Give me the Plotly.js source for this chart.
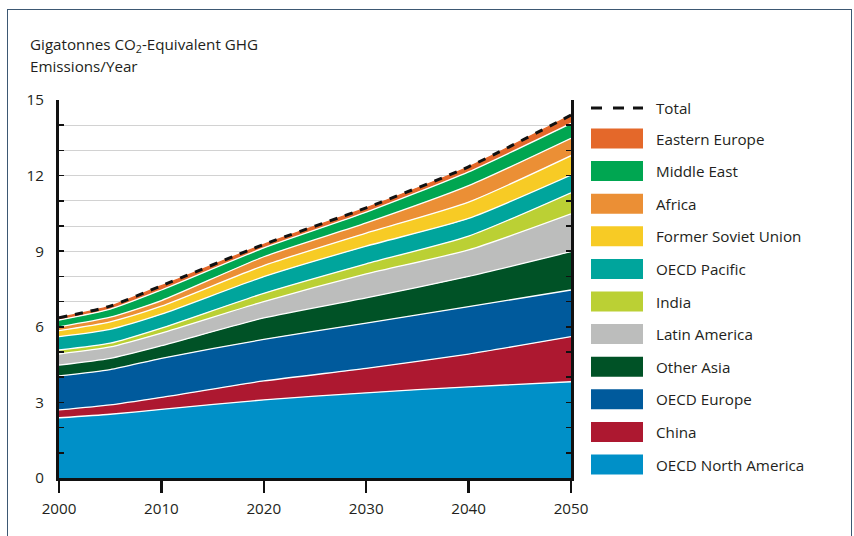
<!DOCTYPE html>
<html><head><meta charset="utf-8">
<script src="https://cdn.plot.ly/plotly-3.0.1.min.js"></script>
<style>
html,body{margin:0;padding:0;background:#fff;}
#wrap{position:relative;width:854px;height:536px;overflow:hidden;}
#chart{position:absolute;left:0;top:0;width:854px;height:536px;}
#frame{position:absolute;left:7px;top:9px;width:843px;height:600px;border:1px solid #3d5873;pointer-events:none;}
</style></head><body>
<div id="wrap"><div id="chart"></div><div id="frame"></div></div>
<script>
// ---- data (Gigatonnes CO2-eq per year, per region, stacked bottom -> top) ----
const years = [2000, 2005, 2010, 2020, 2030, 2040, 2050];
const oecdNorthAmerica = [2.39, 2.53, 2.72, 3.10, 3.38, 3.62, 3.82];
const china            = [0.31, 0.37, 0.48, 0.75, 0.97, 1.30, 1.79];
const oecdEurope       = [1.35, 1.40, 1.55, 1.65, 1.80, 1.88, 1.85];
const otherAsia        = [0.43, 0.45, 0.50, 0.85, 1.00, 1.20, 1.52];
const latinAmerica     = [0.44, 0.45, 0.50, 0.65, 0.95, 1.05, 1.50];
const india            = [0.16, 0.15, 0.20, 0.33, 0.40, 0.55, 0.84];
const oecdPacific      = [0.53, 0.55, 0.55, 0.66, 0.70, 0.70, 0.70];
const formerSovietUnion= [0.24, 0.30, 0.32, 0.44, 0.52, 0.65, 0.77];
const africa           = [0.15, 0.18, 0.22, 0.35, 0.40, 0.65, 0.69];
const middleEast       = [0.27, 0.32, 0.42, 0.35, 0.43, 0.55, 0.59];
const easternEurope    = [0.09, 0.12, 0.17, 0.14, 0.17, 0.20, 0.33];

const xTickVals = [2000, 2010, 2020, 2030, 2040, 2050];
const xTickText = ["2000", "2010", "2020", "2030", "2040", "2050"];
const yTickVals = [0,1,2,3,4,5,6,7,8,9,10,11,12,13,14,15];
const yTickText = ["0","","","3","","","6","","","9","","","12","","","15"];

const seriesNames = ["OECD North America","China","OECD Europe","Other Asia","Latin America","India","OECD Pacific","Former Soviet Union","Africa","Middle East","Eastern Europe"];
const seriesValues = [oecdNorthAmerica, china, oecdEurope, otherAsia, latinAmerica, india, oecdPacific, formerSovietUnion, africa, middleEast, easternEurope];
const seriesColors = ["#0090c8","#ad1830","#005a9c","#005226","#bcbdbc","#bbd034","#00a59c","#f7cb25","#eb8f35","#00a651","#e4682a"];

// ---- geometry helpers (plot area in px) ----
const L = 59, R = 571, T = 100, B = 478;
const px = x => (x - L) / (R - L);
const py = y => (B - y) / (B - T);
const FONT_FAMILY = '"Open Sans", "Noto Sans", sans-serif';
const FS = 15.2;
const TXT = '#231f20';

const traces = seriesNames.map((name, i) => ({
  type: 'scatter', mode: 'lines', x: years, y: seriesValues[i], name: name,
  stackgroup: 'one', fillcolor: seriesColors[i],
  line: {color: i === seriesNames.length - 1 ? seriesColors[i] : '#ffffff', width: 1.3, shape: 'spline', smoothing: 0.6},
  hoverinfo: 'skip', showlegend: false
}));
const total = years.map((_, j) => seriesValues.reduce((s, arr) => s + arr[j], 0));
traces.push({type: 'scatter', mode: 'lines', x: years, y: total, name: 'Total',
  line: {color: '#111', width: 3, dash: '8px,8px', shape: 'spline', smoothing: 0.6}, hoverinfo: 'skip', showlegend: false});

// ---- custom legend ----
const shapes = [];
const annotations = [];
const legendTop = 108, rowStart = 138.5, rowStep = 32.6;
[[591, 602], [613, 624], [633, 643]].forEach(d => shapes.push({
  type: 'line', xref: 'paper', yref: 'paper', x0: px(d[0]), x1: px(d[1]), y0: py(legendTop), y1: py(legendTop),
  line: {color: '#111', width: 3}
}));
annotations.push({xref: 'paper', yref: 'paper', x: px(654), y: py(legendTop), xanchor: 'left', yanchor: 'middle',
  text: 'Total', showarrow: false, font: {family: FONT_FAMILY, size: FS, color: TXT}});
for (let k = 0; k < seriesNames.length; k++) {
  const i = seriesNames.length - 1 - k;
  const cy = rowStart + rowStep * k;
  shapes.push({type: 'rect', xref: 'paper', yref: 'paper', x0: px(591), x1: px(643), y0: py(cy - 10), y1: py(cy + 10),
    fillcolor: seriesColors[i], line: {width: 0}});
  annotations.push({xref: 'paper', yref: 'paper', x: px(654), y: py(cy), xanchor: 'left', yanchor: 'middle',
    text: seriesNames[i], showarrow: false, font: {family: FONT_FAMILY, size: FS, color: TXT}});
}
// y-axis title (two lines, top-left)
annotations.push({xref: 'paper', yref: 'paper', x: px(28), y: py(45), xanchor: 'left', yanchor: 'middle',
  text: 'Gigatonnes CO<sub>2</sub>-Equivalent GHG', showarrow: false, font: {family: FONT_FAMILY, size: FS, color: TXT}});
annotations.push({xref: 'paper', yref: 'paper', x: px(28), y: py(66), xanchor: 'left', yanchor: 'middle',
  text: 'Emissions/Year', showarrow: false, font: {family: FONT_FAMILY, size: FS, color: TXT}});

const layout = {
  width: 854, height: 536,
  margin: {l: L, r: 854 - R, t: T, b: 536 - B, pad: 0},
  paper_bgcolor: '#fff', plot_bgcolor: '#fff',
  font: {family: FONT_FAMILY, size: FS, color: TXT},
  showlegend: false,
  xaxis: {range: [2000, 2050], tickvals: xTickVals, ticktext: xTickText, ticks: 'outside', ticklen: 12, tickwidth: 2.5,
    tickcolor: '#111', showline: true, linewidth: 3, linecolor: '#111', showgrid: false, zeroline: false,
    ticklabelstandoff: 3, tickfont: {family: FONT_FAMILY, size: FS, color: TXT}, fixedrange: true},
  yaxis: {range: [0, 15], tickvals: yTickVals, ticktext: yTickText, ticks: 'inside', ticklen: 5, tickwidth: 1.5,
    tickcolor: '#111', mirror: 'allticks', showline: true, linewidth: 3, linecolor: '#111', showgrid: true,
    gridcolor: '#d2d2d2', gridwidth: 1, zeroline: false, ticklabelstandoff: 9,
    tickfont: {family: FONT_FAMILY, size: FS, color: TXT}, fixedrange: true},
  shapes: shapes, annotations: annotations
};
Plotly.newPlot('chart', traces, layout, {staticPlot: true, displayModeBar: false});
</script></body></html>
